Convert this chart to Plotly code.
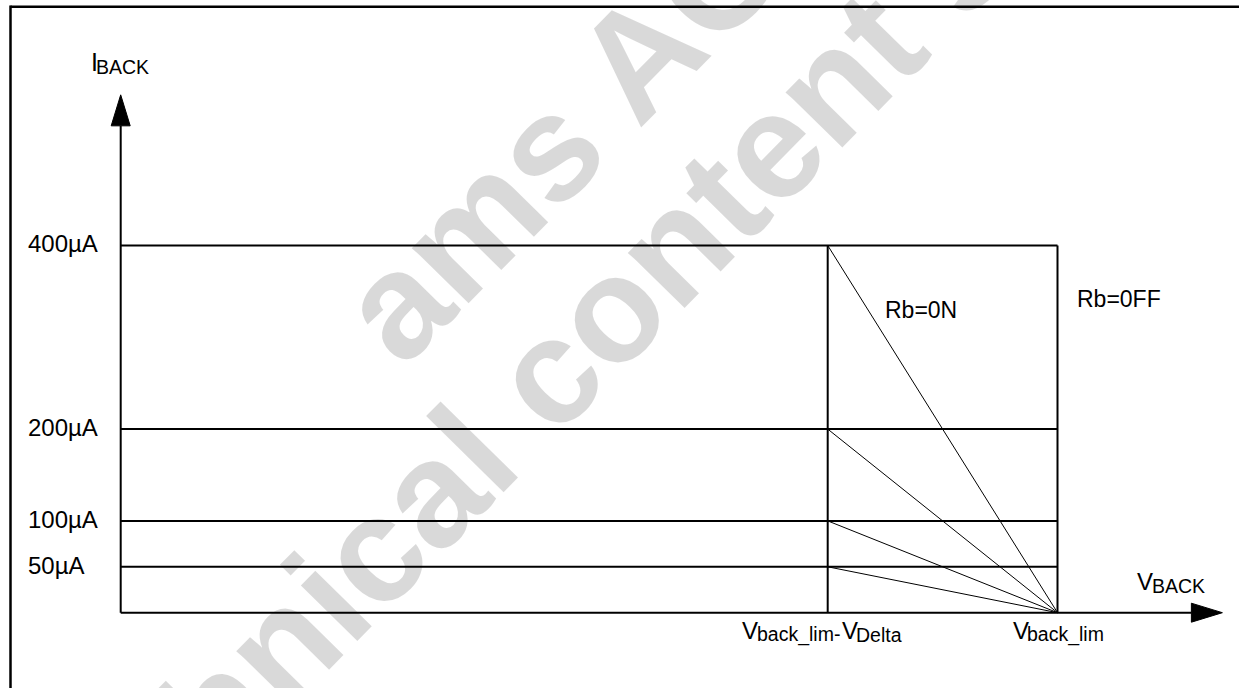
import plotly.graph_objects as go

# ---------------- data ----------------
levels_uA = [50, 100, 200, 400]
level_labels = ["50µA", "100µA", "200µA", "400µA"]
v_back_lim = 10.0          # V_back_lim (schematic units)
v_delta = 2.453            # V_Delta (schematic units)
curve_labels = ["Rb=0N", "Rb=0FF"]
y_axis_tip = 564.0         # top end of the I_BACK axis arrow (µA)
x_axis_tip = 11.76         # right end of the V_BACK axis arrow
watermark_lines = ["ams AG", "technical content still valid"]

# ---------------- geometry / style ----------------
W, H = 1239, 688
X0_PX, Y0_PX = 120.7, 612.7      # pixel position of origin
PX_PER_V = 93.68
PX_PER_UA = 0.9182
FONT = "Liberation Sans, Arial, sans-serif"
MAIN, SUB = 24, 19.5

x_range = [-X0_PX / PX_PER_V, (W - X0_PX) / PX_PER_V]
y_range = [(Y0_PX - H) / PX_PER_UA, Y0_PX / PX_PER_UA]

fig = go.Figure()

v_knee = v_back_lim - v_delta
top = max(levels_uA)

# thick lines: level lines and the two verticals
xs, ys = [], []
for L in levels_uA:
    xs += [0, v_back_lim, None]
    ys += [L, L, None]
for xv in (v_knee, v_back_lim):
    xs += [xv, xv, None]
    ys += [0, top, None]
fig.add_trace(go.Scatter(x=xs, y=ys, mode="lines",
                         line=dict(color="black", width=2), hoverinfo="skip"))

# diagonals (Rb=ON characteristics)
dx, dy = [], []
for L in levels_uA:
    dx += [v_knee, v_back_lim, None]
    dy += [L, 0, None]
fig.add_trace(go.Scatter(x=dx, y=dy, mode="lines",
                         line=dict(color="black", width=1), hoverinfo="skip"))

# axes with arrow heads
head_len, head_hw = 31, 9.5
yb = y_axis_tip - head_len / PX_PER_UA
xb = x_axis_tip - head_len / PX_PER_V
fig.add_trace(go.Scatter(x=[0, 0, None, 0, xb], y=[0, yb, None, 0, 0],
                         mode="lines", line=dict(color="black", width=2), hoverinfo="skip"))
hw_x = head_hw / PX_PER_V
hw_y = head_hw / PX_PER_UA
fig.add_trace(go.Scatter(x=[-hw_x, 0, hw_x, -hw_x], y=[yb, y_axis_tip, yb, yb],
                         mode="lines", fill="toself", fillcolor="black",
                         line=dict(color="black", width=1), hoverinfo="skip"))
fig.add_trace(go.Scatter(x=[xb, x_axis_tip, xb, xb], y=[-hw_y, 0, hw_y, -hw_y],
                         mode="lines", fill="toself", fillcolor="black",
                         line=dict(color="black", width=1), hoverinfo="skip"))

annotations = []


def piece(text, size, xd, yd, dx_px, base_dy_px):
    """text origin dx_px right of data point, baseline base_dy_px below it"""
    annotations.append(dict(
        text=text, x=xd, y=yd, xref="x", yref="y",
        xanchor="left", yanchor="bottom",
        xshift=dx_px, yshift=-(base_dy_px + 0.212 * size),
        showarrow=False, borderpad=0, borderwidth=0,
        font=dict(family=FONT, size=size, color="black")))


# level labels
for L, lab in zip(levels_uA, level_labels):
    piece(lab, MAIN, 0, L, -92.2, 6.8)

# axis titles
piece("I", MAIN + 1, 0, y_axis_tip, -29.7, -24)
piece("BACK", SUB, 0, y_axis_tip, -24.7, -21)
piece("V", MAIN, x_axis_tip, 0, -85, -22.7)
piece("BACK", SUB, x_axis_tip, 0, -70, -19.7)

# x tick labels
piece("V", MAIN, v_back_lim, 0, -44.5, 26.3)
piece("back_lim", SUB, v_back_lim, 0, -30.5, 29.3)
piece("V", MAIN, v_knee, 0, -85.7, 26.3)
piece("back_lim-", SUB, v_knee, 0, -70.7, 29.3)
piece("V", MAIN, v_knee, 0, 13.8, 26.3)
piece("Delta", SUB, v_knee, 0, 27.8, 29.3)

# curve labels
piece(curve_labels[0], 23, v_knee, top, 57.3, 72.7)
piece(curve_labels[1], 23, v_back_lim, top, 19.5, 61.7)

# watermark (translucent black -> light grey on white, stays black over lines)
wm_centers = [(562, 134), (704, 214)]
for txt, (cx, cy) in zip(watermark_lines, wm_centers):
    annotations.append(dict(
        text="<b>" + txt + "</b>", x=cx / W, y=1 - cy / H, xref="paper", yref="paper",
        xanchor="center", yanchor="middle", textangle=-45.5, showarrow=False,
        borderpad=0, borderwidth=0,
        font=dict(family=FONT, size=150, color="rgba(0,0,0,0.15)")))

# outer frame (top and left edges)
shapes = [
    dict(type="line", xref="paper", yref="paper", x0=10.5 / W, x1=1, y0=1 - 6.7 / H, y1=1 - 6.7 / H,
         line=dict(color="black", width=2.5)),
    dict(type="line", xref="paper", yref="paper", x0=10.5 / W, x1=10.5 / W, y0=1 - 5.5 / H, y1=0,
         line=dict(color="black", width=2.5)),
]

fig.update_layout(
    width=W, height=H, margin=dict(l=0, r=0, t=0, b=0),
    paper_bgcolor="white", plot_bgcolor="white",
    showlegend=False, hovermode=False,
    xaxis=dict(range=x_range, visible=False, fixedrange=True, zeroline=False, showline=False),
    yaxis=dict(range=y_range, visible=False, fixedrange=True, zeroline=False, showline=False),
    annotations=annotations, shapes=shapes,
)

fig.write_html(
    "out.html", config={"displayModeBar": False, "staticPlot": True},
    post_script=("document.documentElement.style.margin='0';"
                 "document.documentElement.style.overflow='hidden';"
                 "document.body.style.margin='0';document.body.style.overflow='hidden';"))
